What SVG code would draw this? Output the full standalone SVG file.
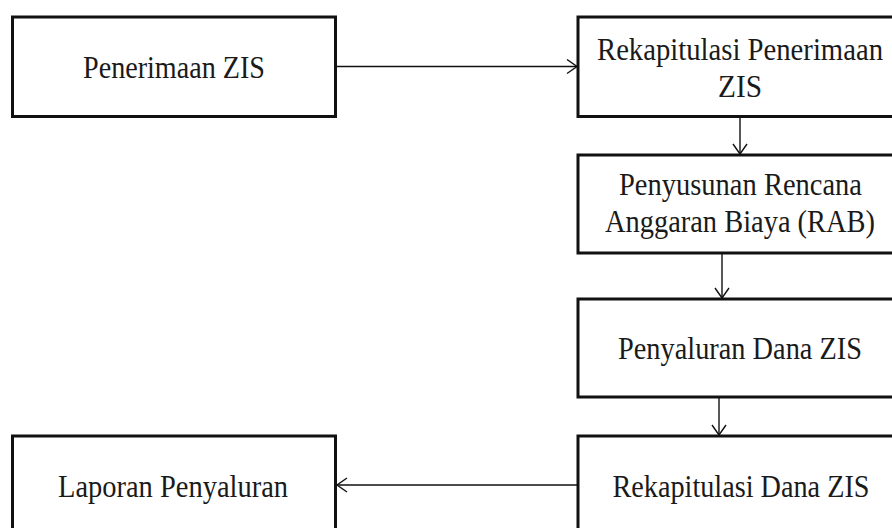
<svg xmlns="http://www.w3.org/2000/svg" width="892" height="528" viewBox="0 0 892 528">
<style>
.box{fill:#fff;stroke:#111;stroke-width:3}
.lbl{font-family:"Liberation Serif","Times New Roman",serif;font-size:31px;fill:#1a1a1a;text-anchor:middle}
.con{stroke:#111;stroke-width:1.4;fill:none}
</style>
<defs>
<marker id="arr" markerUnits="userSpaceOnUse" markerWidth="14" markerHeight="16" refX="11" refY="8" orient="auto">
<path d="M1,1 L11,8 L1,15" fill="none" stroke="#111" stroke-width="1.4"/>
</marker>
</defs>
<g id="n1"><rect class="box" x="12.5" y="17" width="323" height="99.5"/>
<text class="lbl" x="174" y="78" textLength="182" lengthAdjust="spacingAndGlyphs">Penerimaan ZIS</text></g>
<g id="n2"><rect class="box" x="578" y="17" width="324" height="99.5"/>
<text class="lbl" x="740" y="60" textLength="286" lengthAdjust="spacingAndGlyphs">Rekapitulasi Penerimaan</text>
<text class="lbl" x="740" y="97" textLength="44" lengthAdjust="spacingAndGlyphs">ZIS</text></g>
<g id="n3"><rect class="box" x="578" y="155" width="324" height="98"/>
<text class="lbl" x="740.5" y="195" textLength="243" lengthAdjust="spacingAndGlyphs">Penyusunan Rencana</text>
<text class="lbl" x="740" y="232" textLength="270" lengthAdjust="spacingAndGlyphs">Anggaran Biaya (RAB)</text></g>
<g id="n4"><rect class="box" x="578" y="299" width="324" height="98"/>
<text class="lbl" x="740" y="359" textLength="244" lengthAdjust="spacingAndGlyphs">Penyaluran Dana ZIS</text></g>
<g id="n5"><rect class="box" x="578" y="436" width="324" height="110"/>
<text class="lbl" x="741" y="497" textLength="257" lengthAdjust="spacingAndGlyphs">Rekapitulasi Dana ZIS</text></g>
<g id="n6"><rect class="box" x="12.5" y="436" width="323" height="110"/>
<text class="lbl" x="173" y="497" textLength="230" lengthAdjust="spacingAndGlyphs">Laporan Penyaluran</text></g>
<g id="connectors">
<line class="con" x1="336" y1="66.5" x2="577" y2="66.5" marker-end="url(#arr)"/>
<line class="con" x1="740" y1="117" x2="740" y2="154" marker-end="url(#arr)"/>
<line class="con" x1="722" y1="254" x2="722" y2="298" marker-end="url(#arr)"/>
<line class="con" x1="719" y1="398" x2="719" y2="435" marker-end="url(#arr)"/>
<line class="con" x1="577" y1="485" x2="337" y2="485" marker-end="url(#arr)"/>
</g>
</svg>
